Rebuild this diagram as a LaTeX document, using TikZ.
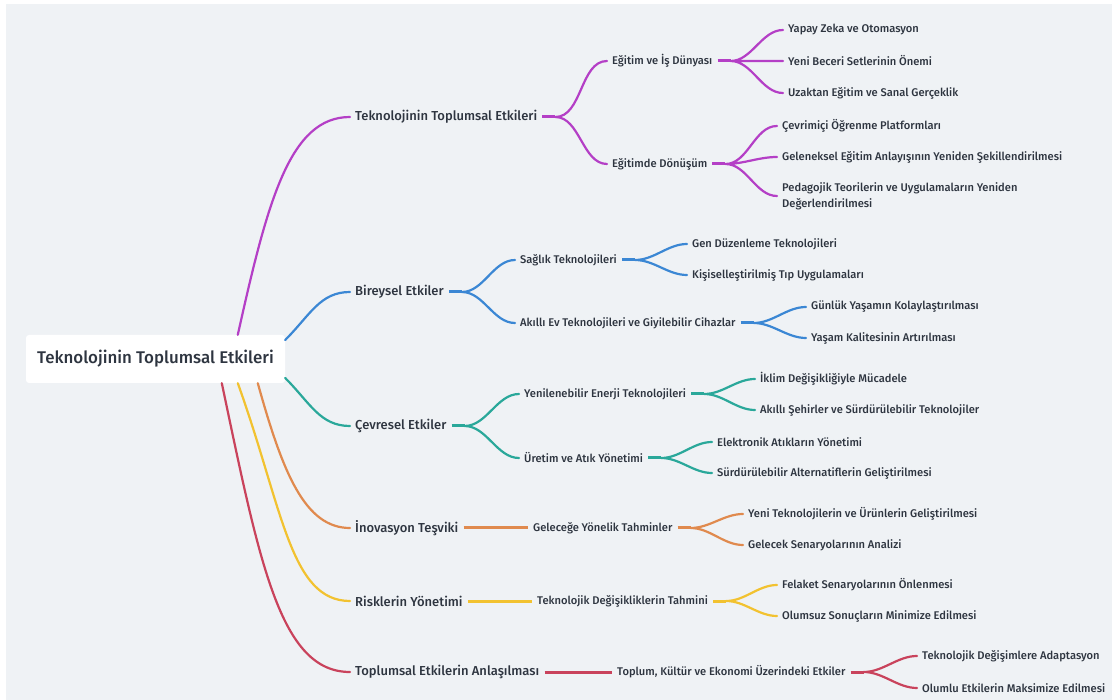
\documentclass[tikz,border=0pt]{standalone}
\usepackage{fontspec}
\setmainfont{Fira Sans}[UprightFont={* Medium}]
\usetikzlibrary{positioning,calc}
\definecolor{bgc}{HTML}{EFF2F5}
\definecolor{txt}{HTML}{2E3540}
\definecolor{pcol}{HTML}{B43FC6}
\definecolor{bcol}{HTML}{3B87D4}
\definecolor{tcol}{HTML}{2AA89A}
\definecolor{ocol}{HTML}{E08A4E}
\definecolor{ycol}{HTML}{F2C230}
\definecolor{rcol}{HTML}{C9435C}
\tikzset{
    rootbox/.style={fill=white, rounded corners=3pt, minimum width=259pt, minimum height=48pt,
        inner sep=0pt, text=txt, font=\fontsize{16.9}{20}\selectfont},
    lvlone/.style={anchor=west, inner xsep=5pt, inner ysep=2pt, text=txt, font=\fontsize{13}{15}\selectfont},
    lvltwo/.style={anchor=west, inner xsep=5pt, inner ysep=2pt, text=txt, font=\fontsize{11.15}{13}\selectfont},
    lvlthree/.style={lvltwo, align=left, font=\fontsize{11.15}{16}\selectfont},
    branch/.style={line width=2.2pt, line cap=round},
    stub/.style={line width=3pt},
    fork/.style={out=0, in=180, looseness=0.9}
}
\begin{document}
\begin{tikzpicture}[x=1pt, y=-1pt]
    \useasboundingbox (0,0) rectangle (1112,700);
    \fill[bgc] (6,4) rectangle (1112,700);
    \node[rootbox] (root) at (155.5,359) {Teknolojinin Toplumsal Etkileri};

    % first level
    \node[lvlone] (t1) at (350,117) {Teknolojinin Toplumsal Etkileri};
    \node[lvlone] (t2) at (350,292) {Bireysel Etkiler};
    \node[lvlone] (t3) at (350,426) {Çevresel Etkiler};
    \node[lvlone] (t4) at (350,528) {İnovasyon Teşviki};
    \node[lvlone] (t5) at (350,601) {Risklerin Yönetimi};
    \node[lvlone] (t6) at (350,672) {Toplumsal Etkilerin Anlaşılması};

    \draw[pcol, branch] ([xshift=212pt]root.north west) .. controls +(30,-135) and +(-60,0) .. (t1.west);
    \draw[bcol, branch] ([yshift=19pt]root.east) .. controls +(25,-25) and +(-30,0) .. (t2.west);
    \draw[tcol, branch] ([yshift=-19pt]root.east) .. controls +(25,25) and +(-30,0) .. (t3.west);
    \draw[ocol, branch] ([xshift=232pt]root.south west) .. controls +(25,90) and +(-45,0) .. (t4.west);
    \draw[ycol, branch] ([xshift=212pt]root.south west) .. controls +(45,125) and +(-60,0) .. (t5.west);
    \draw[rcol, branch] ([xshift=196pt]root.south west) .. controls +(38,180) and +(-70,0) .. (t6.west);

    % second level
    \node[lvltwo] (a1) at (607,61) {Eğitim ve İş Dünyası};
    \node[lvltwo] (a2) at (607,164) {Eğitimde Dönüşüm};
    \node[lvltwo] (b1) at (515,260) {Sağlık Teknolojileri};
    \node[lvltwo] (b2) at (515,323) {Akıllı Ev Teknolojileri ve Giyilebilir Cihazlar};
    \node[lvltwo] (c1) at (519,394) {Yenilenebilir Enerji Teknolojileri};
    \node[lvltwo] (c2) at (519,458) {Üretim ve Atık Yönetimi};
    \node[lvltwo] (d1) at (528,528) {Geleceğe Yönelik Tahminler};
    \node[lvltwo] (e1) at (532,601) {Teknolojik Değişikliklerin Tahmini};
    \node[lvltwo] (f1) at (612,672) {Toplum, Kültür ve Ekonomi Üzerindeki Etkiler};

    \coordinate (t1b) at ([xshift=13pt]t1.east);
    \coordinate (t2b) at ([xshift=13pt]t2.east);
    \coordinate (t3b) at ([xshift=13pt]t3.east);
    \draw[pcol, stub] (t1.east) -- (t1b);
    \draw[pcol, branch] (t1b) to[fork] (a1.west) (t1b) to[fork] (a2.west);
    \draw[bcol, stub] (t2.east) -- (t2b);
    \draw[bcol, branch] (t2b) to[fork] (b1.west) (t2b) to[fork] (b2.west);
    \draw[tcol, stub] (t3.east) -- (t3b);
    \draw[tcol, branch] (t3b) to[fork] (c1.west) (t3b) to[fork] (c2.west);
    \draw[ocol, stub] (t4.east) -- (d1.west);
    \draw[ycol, stub] (t5.east) -- (e1.west);
    \draw[rcol, stub] (t6.east) -- (f1.west);

    % third level
    \node[lvlthree] (a11) at (783,30) {Yapay Zeka ve Otomasyon};
    \node[lvlthree] (a12) at (783,61) {Yeni Beceri Setlerinin Önemi};
    \node[lvlthree] (a13) at (783,93) {Uzaktan Eğitim ve Sanal Gerçeklik};
    \node[lvlthree] (a21) at (777,126) {Çevrimiçi Öğrenme Platformları};
    \node[lvlthree] (a22) at (777,157) {Geleneksel Eğitim Anlayışının Yeniden Şekillendirilmesi};
    \node[lvlthree] (a23) at (777,196) {Pedagojik Teorilerin ve Uygulamaların Yeniden\\Değerlendirilmesi};
    \node[lvlthree] (b11) at (687,244) {Gen Düzenleme Teknolojileri};
    \node[lvlthree] (b12) at (687,275) {Kişiselleştirilmiş Tıp Uygulamaları};
    \node[lvlthree] (b21) at (806,307) {Günlük Yaşamın Kolaylaştırılması};
    \node[lvlthree] (b22) at (806,338) {Yaşam Kalitesinin Artırılması};
    \node[lvlthree] (c11) at (755,379) {İklim Değişikliğiyle Mücadele};
    \node[lvlthree] (c12) at (755,410) {Akıllı Şehirler ve Sürdürülebilir Teknolojiler};
    \node[lvlthree] (c21) at (712,442) {Elektronik Atıkların Yönetimi};
    \node[lvlthree] (c22) at (712,473) {Sürdürülebilir Alternatiflerin Geliştirilmesi};
    \node[lvlthree] (d11) at (743,514) {Yeni Teknolojilerin ve Ürünlerin Geliştirilmesi};
    \node[lvlthree] (d12) at (743,545) {Gelecek Senaryolarının Analizi};
    \node[lvlthree] (e11) at (777,585) {Felaket Senaryolarının Önlenmesi};
    \node[lvlthree] (e12) at (777,616) {Olumsuz Sonuçların Minimize Edilmesi};
    \node[lvlthree] (f11) at (917,656) {Teknolojik Değişimlere Adaptasyon};
    \node[lvlthree] (f12) at (917,688) {Olumlu Etkilerin Maksimize Edilmesi};

    \coordinate (a1b) at ([xshift=13pt]a1.east);
    \coordinate (a2b) at ([xshift=13pt]a2.east);
    \coordinate (b1b) at ([xshift=13pt]b1.east);
    \coordinate (b2b) at ([xshift=13pt]b2.east);
    \coordinate (c1b) at ([xshift=13pt]c1.east);
    \coordinate (c2b) at ([xshift=13pt]c2.east);
    \coordinate (d1b) at ([xshift=13pt]d1.east);
    \coordinate (e1b) at ([xshift=13pt]e1.east);
    \coordinate (f1b) at ([xshift=13pt]f1.east);

    \draw[pcol, stub] (a1.east) -- (a1b);
    \draw[pcol, branch] (a1b) to[fork] (a11.west) (a1b) -- (a12.west) (a1b) to[fork] (a13.west);
    \draw[pcol, stub] (a2.east) -- (a2b);
    \draw[pcol, branch] (a2b) to[fork] (a21.west) (a2b) to[fork] (a22.west) (a2b) to[fork] (a23.west);
    \draw[bcol, stub] (b1.east) -- (b1b);
    \draw[bcol, branch] (b1b) to[fork] (b11.west) (b1b) to[fork] (b12.west);
    \draw[bcol, stub] (b2.east) -- (b2b);
    \draw[bcol, branch] (b2b) to[fork] (b21.west) (b2b) to[fork] (b22.west);
    \draw[tcol, stub] (c1.east) -- (c1b);
    \draw[tcol, branch] (c1b) to[fork] (c11.west) (c1b) to[fork] (c12.west);
    \draw[tcol, stub] (c2.east) -- (c2b);
    \draw[tcol, branch] (c2b) to[fork] (c21.west) (c2b) to[fork] (c22.west);
    \draw[ocol, stub] (d1.east) -- (d1b);
    \draw[ocol, branch] (d1b) to[fork] (d11.west) (d1b) to[fork] (d12.west);
    \draw[ycol, stub] (e1.east) -- (e1b);
    \draw[ycol, branch] (e1b) to[fork] (e11.west) (e1b) to[fork] (e12.west);
    \draw[rcol, stub] (f1.east) -- (f1b);
    \draw[rcol, branch] (f1b) to[fork] (f11.west) (f1b) to[fork] (f12.west);
\end{tikzpicture}
\end{document}
